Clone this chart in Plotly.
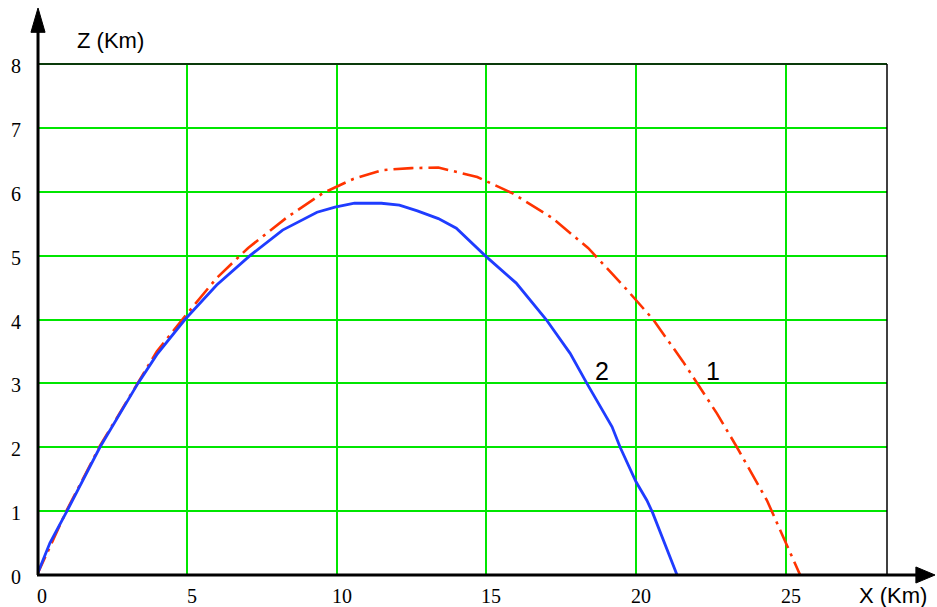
import plotly.graph_objects as go

# Curve 2 (blue, solid)
x2 = [0, 0.43, 1.0, 2.1, 3.37, 4.0, 4.94, 6.0, 7.11, 8.2, 9.35, 9.95, 10.6, 11.5, 12.1,
      12.7, 13.4, 14.0, 14.96, 16.0, 17.0, 17.8, 18.36, 19.2, 19.47, 20.0, 20.36, 20.55, 21.37]
z2 = [0, 0.5, 1.0, 2.0, 3.0, 3.45, 4.0, 4.54, 5.0, 5.4, 5.68, 5.76, 5.82, 5.82, 5.79,
      5.70, 5.58, 5.43, 5.0, 4.57, 4.0, 3.47, 3.0, 2.32, 2.0, 1.46, 1.17, 0.98, 0.0]

# Curve 1 (red, dash-dot)
x1 = [0, 1.0, 2.1, 3.37, 4.0, 4.94, 6.0, 7.05, 8.35, 9.55, 10.56, 11.55, 12.5, 13.4,
      14.7, 15.9, 17.2, 18.4, 19.63, 20.57, 21.57, 22.7, 23.37, 24.37, 25.1, 25.48]
z1 = [0, 1.02, 2.02, 3.02, 3.5, 4.05, 4.65, 5.12, 5.6, 5.98, 6.2, 6.34, 6.37, 6.38,
      6.23, 5.97, 5.59, 5.12, 4.5, 4.0, 3.34, 2.53, 2.0, 1.17, 0.39, 0.0]

x_ticks = [0, 5, 10, 15, 20, 25]
y_ticks = [0, 1, 2, 3, 4, 5, 6, 7, 8]
x_tick_labels = ["0", "5", "10", "15", "20", "25"]
y_tick_labels = ["0", "1", "2", "3", "4", "5", "6", "7", "8"]

fig = go.Figure()
fig.add_trace(go.Scatter(x=x1, y=z1, mode="lines",
                         line=dict(color="#FF3300", width=2.6, dash="20px,6px,3px,6px"),
                         showlegend=False))
fig.add_trace(go.Scatter(x=x2, y=z2, mode="lines",
                         line=dict(color="#1F3CFF", width=2.8),
                         showlegend=False))

fig.update_layout(
    width=937, height=607,
    margin=dict(l=37, r=50, t=64, b=32, autoexpand=False),
    paper_bgcolor="white", plot_bgcolor="white",
    xaxis=dict(range=[0, 28.38], tickvals=x_ticks, showticklabels=False,
               showgrid=True, gridcolor="#00E600", gridwidth=2, zeroline=False,
               showline=False, ticks="", automargin=False, fixedrange=True),
    yaxis=dict(range=[0, 8], tickvals=y_ticks, showticklabels=False,
               showgrid=True, gridcolor="#00E600", gridwidth=2, zeroline=False,
               showline=False, ticks="", automargin=False, fixedrange=True),
)

serif = dict(family="Liberation Serif", size=20, color="black")
for v, t in zip(x_ticks, x_tick_labels):
    fig.add_annotation(text=t, x=v, xref="x", y=0, yref="paper", yshift=-21, xshift=5,
                       showarrow=False, font=serif, xanchor="center", yanchor="middle")
for v, t in zip(y_ticks, y_tick_labels):
    fig.add_annotation(text=t, x=0, xref="paper", y=v, yref="y", xshift=-21, yshift=-2,
                       showarrow=False, font=serif, xanchor="center", yanchor="middle")

shapes = []
shapes.append(dict(type="line", xref="paper", yref="paper", x0=0, x1=1, y0=1, y1=1,
                   line=dict(color="#0A3A0A", width=2)))
shapes.append(dict(type="line", xref="paper", yref="paper", x0=1, x1=1, y0=0, y1=1,
                   line=dict(color="black", width=1.5)))
shapes.append(dict(type="line", xref="paper", yref="paper", x0=0.0012, x1=0.0012, y0=0,
                   y1=1.07, line=dict(color="black", width=3)))
shapes.append(dict(type="path", xref="paper", yref="paper",
                   path="M -0.0071 1.062 L 0.0012 1.1096 L 0.0095 1.062 Z",
                   fillcolor="black", line=dict(color="black", width=1)))
shapes.append(dict(type="line", xref="paper", yref="paper", x0=0, x1=1.036, y0=0,
                   y1=0, line=dict(color="black", width=3)))
shapes.append(dict(type="path", xref="paper", yref="paper",
                   path="M 1.034 0.0157 L 1.0565 0 L 1.034 -0.0157 Z",
                   fillcolor="black", line=dict(color="black", width=1)))
fig.update_layout(shapes=shapes)

lab = dict(family="Liberation Sans", size=22, color="black")
fig.add_annotation(text="Z (Km)", xref="paper", yref="paper",
                   x=(110 - 37) / 850, y=(575 - 40) / 511, showarrow=False,
                   font=lab, xanchor="center", yanchor="middle")
fig.add_annotation(text="X (Km)", xref="paper", yref="paper",
                   x=(893 - 37) / 850, y=(575 - 595) / 511, showarrow=False,
                   font=lab, xanchor="center", yanchor="middle")
num = dict(family="Liberation Sans", size=25, color="black")
fig.add_annotation(text="2", x=18.85, y=3.2, showarrow=False, font=num)
fig.add_annotation(text="1", x=22.57, y=3.2, showarrow=False, font=num)

fig.write_html("out.html", config={"displayModeBar": False},
               post_script="document.body.style.margin='0';document.body.style.overflow='hidden';")
